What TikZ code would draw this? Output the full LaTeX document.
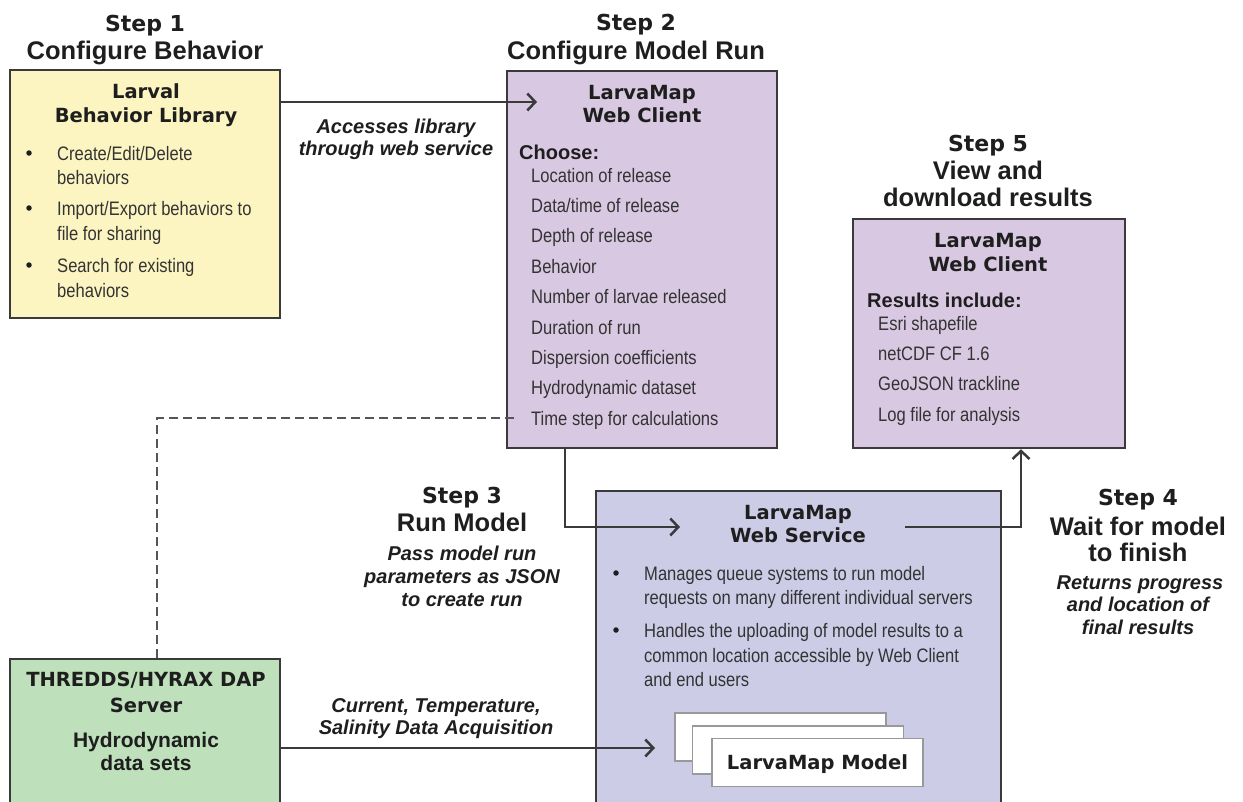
\documentclass[tikz,border=0pt]{standalone}
\usepackage{fontspec}
\setmainfont{Liberation Sans}
\newfontfamily\heavyfont{DejaVu Sans}
\newfontfamily\narrowfont{Liberation Sans}[FakeStretch=0.85]
\usepackage{xcolor}
\usepackage{tikz}
\usetikzlibrary{arrows.meta}

\definecolor{libyellow}{HTML}{FCF5C2}
\definecolor{clientpurple}{HTML}{D9C8E1}
\definecolor{servicelav}{HTML}{CDCCE7}
\definecolor{servergreen}{HTML}{BEE1BB}
\definecolor{edgegray}{HTML}{3A3A3A}
\definecolor{dashgray}{HTML}{555555}
\definecolor{textgray}{HTML}{333333}
\definecolor{inkblack}{HTML}{1E1E1E}

\begin{document}
\begin{tikzpicture}[x=1pt,y=-1pt,>={Straight Barb[length=8pt,width=17pt]},
    box/.style={draw=edgegray,line width=2.5pt,inner sep=0pt},
    modelbox/.style={draw=gray!80,line width=1.5pt,fill=white,inner sep=0pt,
        minimum width=211pt,minimum height=48pt},
    conn/.style={draw=edgegray,line width=2.5pt},
    dashlink/.style={draw=dashgray,line width=2.5pt,dash pattern=on 9pt off 5pt},
    stepno/.style={font=\heavyfont\bfseries\fontsize{22}{26}\selectfont,text=inkblack,
        inner sep=0pt,text height=16pt,text depth=0pt},
    steptitle/.style={font=\bfseries\fontsize{25.5}{30}\selectfont,text=inkblack,
        inner sep=0pt,text height=18pt,text depth=0pt},
    note/.style={font=\bfseries\itshape\fontsize{20}{24}\selectfont,text=inkblack,
        inner sep=0pt,text height=14.5pt,text depth=0pt},
    boxtitle/.style={font=\heavyfont\bfseries\fontsize{19.5}{23}\selectfont,text=inkblack,
        inner sep=0pt,text height=14pt,text depth=0pt},
    listhead/.style={font=\bfseries\fontsize{20}{24}\selectfont,text=inkblack,anchor=west,
        inner sep=0pt,text height=14.5pt,text depth=0pt},
    bodytext/.style={font=\narrowfont\fontsize{19.5}{23}\selectfont,text=textgray,anchor=west,
        inner sep=0pt,text height=14pt,text depth=0pt},
    dot/.style={circle,fill=inkblack,inner sep=0pt,minimum size=5.5pt}]

    % Page frame, 1243 x 801 px
    \useasboundingbox (0,0) rectangle (1243,801);
    \clip (0,0) rectangle (1243,801);

    % Boxes
    \node[box,fill=libyellow,minimum width=270pt,minimum height=248pt] (lib) at (145,194) {};
    \node[box,fill=clientpurple,minimum width=270pt,minimum height=377pt] (client) at (642,259.5) {};
    \node[box,fill=clientpurple,minimum width=272pt,minimum height=229pt] (results) at (989,333.5) {};
    \node[box,fill=servicelav,minimum width=405pt,minimum height=329pt] (service) at (798.5,655.5) {};
    \node[box,fill=servergreen,minimum width=270pt,minimum height=161pt] (thredds) at (145,739.5) {};

    % Step headings
    \node[stepno] (s1) at (145,23) {Step 1};
    \node[steptitle] (s1t) at (145,50) {Configure Behavior};
    \node[stepno] (s2) at (636,22) {Step 2};
    \node[steptitle] (s2t) at (636,50) {Configure Model Run};
    \node[stepno] (s3) at (462,495) {Step 3};
    \node[steptitle] (s3t) at (462,522) {Run Model};
    \node[stepno] (s4) at (1138,497) {Step 4};
    \node[steptitle] (s4t) at (1138,526) {Wait for model};
    \node[steptitle] (s4u) at (1138,552) {to finish};
    \node[stepno] (s5) at (988,143) {Step 5};
    \node[steptitle] (s5t) at (988,170) {View and};
    \node[steptitle] (s5u) at (988,197) {download results};

    % Connector notes
    \node[note] (acc1) at (396,126) {Accesses library};
    \node[note] (acc2) at (396,148) {through web service};
    \node[note] (pass1) at (462,553) {Pass model run};
    \node[note] (pass2) at (462,576) {parameters as JSON};
    \node[note] (pass3) at (462,599) {to create run};
    \node[note] (ret1) at (1140,582) {Returns progress};
    \node[note] (ret2) at (1138,604) {and location of};
    \node[note] (ret3) at (1138,627) {final results};
    \node[note] (acq1) at (436,705) {Current, Temperature,};
    \node[note] (acq2) at (436,727) {Salinity Data Acquisition};

    % Step 1: behavior library
    \node[boxtitle] (libt1) at (146,91) {Larval};
    \node[boxtitle] (libt2) at (146,115) {Behavior Library};
    \node[bodytext] (libl1) at (57,153) {Create/Edit/Delete};
    \node[bodytext] (libl2) at (57,177) {behaviors};
    \node[bodytext] (libl3) at (57,208) {Import/Export behaviors to};
    \node[bodytext] (libl4) at (57,233) {file for sharing};
    \node[bodytext] (libl5) at (57,265) {Search for existing};
    \node[bodytext] (libl6) at (57,290) {behaviors};
    \foreach \yy [count=\i] in {153,208,265}
        \node[dot] (libb\i) at (29,\yy) {};

    % Step 2: web client
    \node[boxtitle] (clt1) at (642,92) {LarvaMap};
    \node[boxtitle] (clt2) at (642,115) {Web Client};
    \node[listhead] (choose) at (519,152) {Choose:};
    \foreach \opt [count=\i] in {Location of release,Data/time of release,
        Depth of release,Behavior,Number of larvae released,Duration of run,
        Dispersion coefficients,Hydrodynamic dataset,Time step for calculations}
        \node[bodytext] (opt\i) at (531,{175+30.4*(\i-1)}) {\opt};

    % Step 5: results
    \node[boxtitle] (rst1) at (988,240) {LarvaMap};
    \node[boxtitle] (rst2) at (988,264) {Web Client};
    \node[listhead] (rinc) at (867,300) {Results include:};
    \foreach \res [count=\i] in {Esri shapefile,netCDF CF 1.6,GeoJSON trackline,
        Log file for analysis}
        \node[bodytext] (res\i) at (878,{323+30.4*(\i-1)}) {\res};

    % Web service
    \node[boxtitle] (svt1) at (798,512) {LarvaMap};
    \node[boxtitle] (svt2) at (798,535) {Web Service};
    \node[bodytext] (svl1) at (644,573) {Manages queue systems to run model};
    \node[bodytext] (svl2) at (644,597) {requests on many different individual servers};
    \node[bodytext] (svl3) at (644,630) {Handles the uploading of model results to a};
    \node[bodytext] (svl4) at (644,655) {common location accessible by Web Client};
    \node[bodytext] (svl5) at (644,679) {and end users};
    \foreach \yy [count=\i] in {573,630}
        \node[dot] (svb\i) at (616,\yy) {};

    % Model stack
    \node[modelbox] (mback) at (780.5,737) {};
    \node[modelbox] (mmid) at (798,750) {};
    \node[modelbox] (mfront) at (817.5,762.5) {};
    \node[boxtitle] (mlabel) at (mfront) {LarvaMap Model};

    % Data server
    \node[boxtitle] (srv1) at (146,679) {THREDDS/HYRAX DAP};
    \node[boxtitle] (srv2) at (146,705) {Server};
    \node[listhead,anchor=center,font=\bfseries\fontsize{21}{24}\selectfont] (srv3) at (146,740) {Hydrodynamic};
    \node[listhead,anchor=center,font=\bfseries\fontsize{21}{24}\selectfont] (srv4) at (146,763) {data sets};

    % Connectors
    \coordinate (clientin) at (537,102);
    \draw[conn,->] (lib.east |- clientin) -- (clientin);

    \coordinate (dashbend) at (157,418);
    \coordinate (dashend) at (517,418);
    \draw[dashlink] (thredds.north -| dashbend) -- (dashbend) -- (dashend);

    \coordinate (runbend) at (565,527);
    \coordinate (runin) at (680,527);
    \draw[conn,->] (client.south -| runbend) -- (runbend) -- (runin);

    \coordinate (svcout) at (905,527);
    \coordinate (donebend) at (1021,527);
    \draw[conn,->] (svcout) -- (donebend) -- (results.south -| donebend);

    \coordinate (modelin) at (655,748);
    \draw[conn,->] (thredds.east |- modelin) -- (modelin);

\end{tikzpicture}
\end{document}
